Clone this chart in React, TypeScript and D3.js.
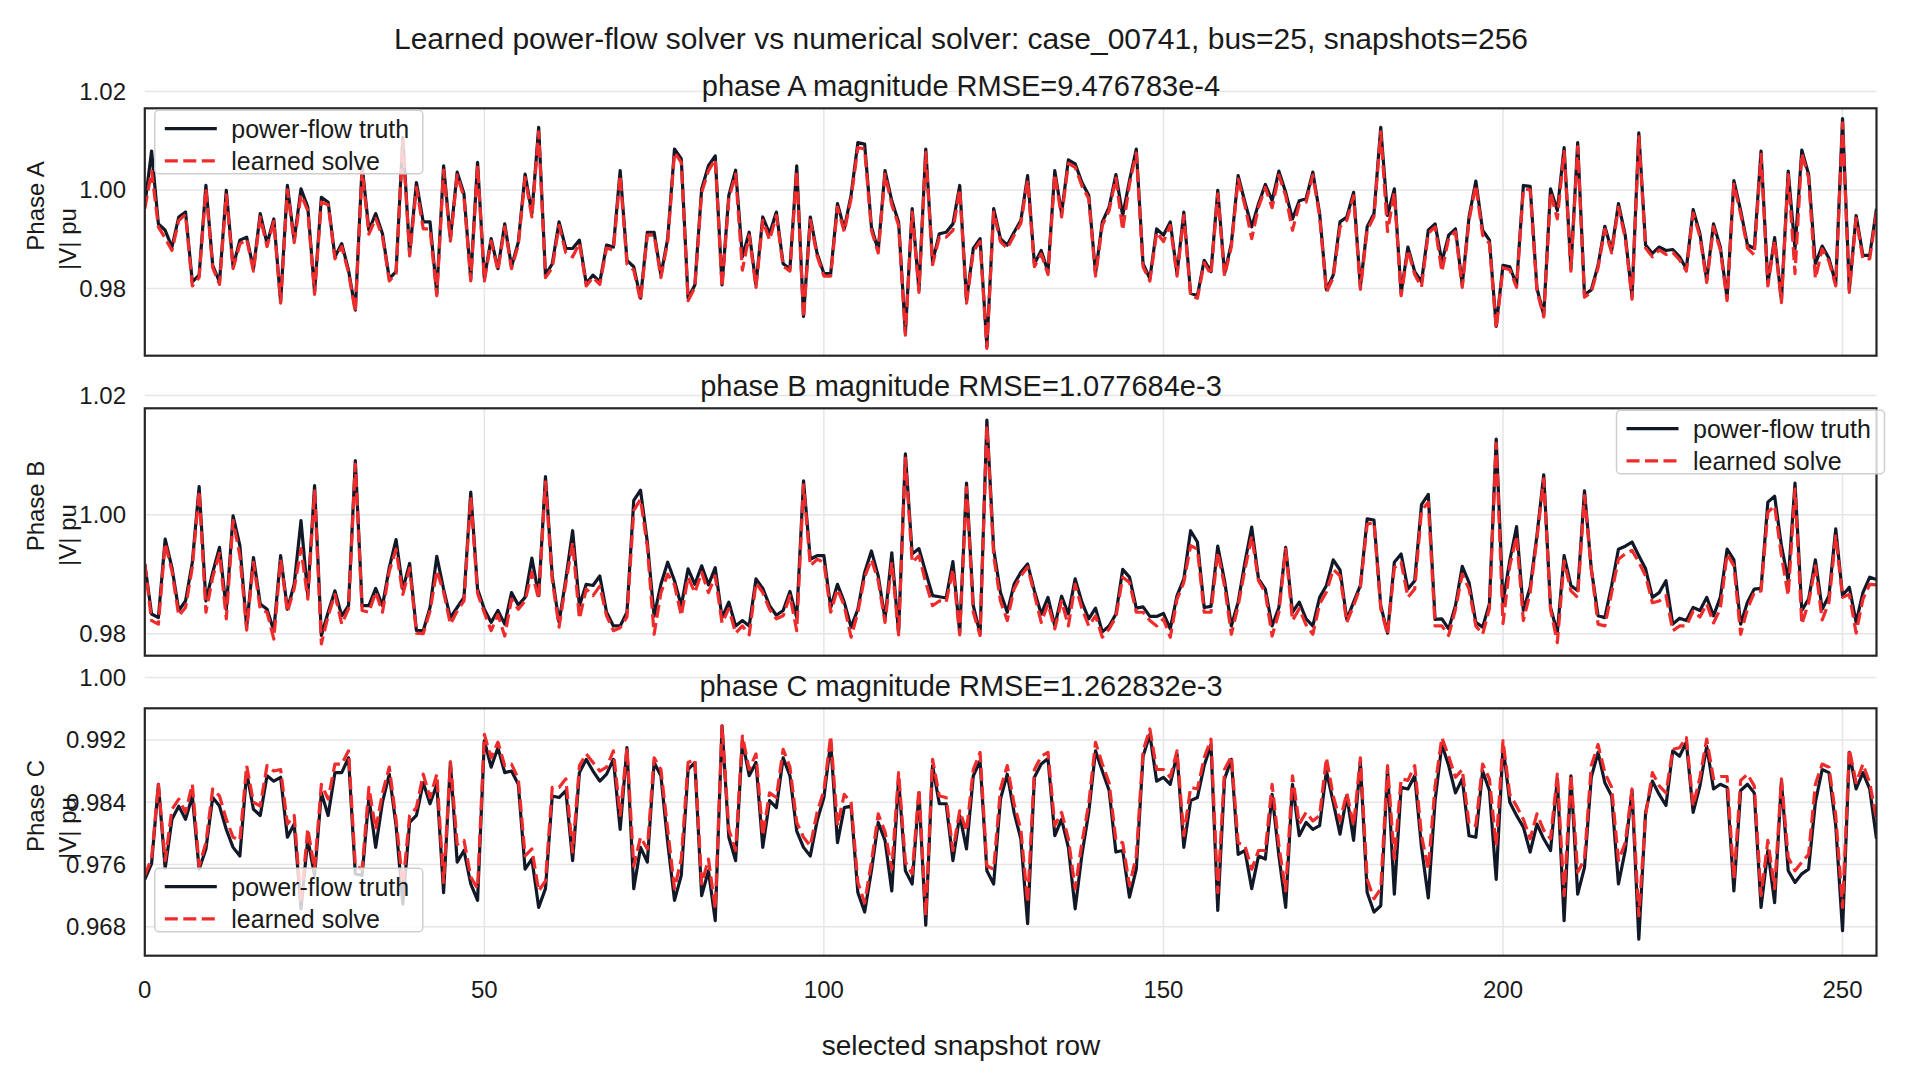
import * as d3 from "d3";

const SUPTITLE = "Learned power-flow solver vs numerical solver: case_00741, bus=25, snapshots=256";
const X_LABEL = "selected snapshot row";
const X_TICKS = [0, 50, 100, 150, 200, 250];
const Y_TICKS_AB = [0.98, 1.0, 1.02];
const Y_TICK_LABELS_AB = ["0.98", "1.00", "1.02"];
const Y_TICKS_C = [0.968, 0.976, 0.984, 0.992, 1.0];
const Y_TICK_LABELS_C = ["0.968", "0.976", "0.984", "0.992", "1.00"];
const SERIES_NAMES = ["power-flow truth", "learned solve"];

// phase A |V| (pu), 256 snapshots
const truthA = [
  0.9968, 1.0079, 0.9931, 0.9918, 0.9884, 0.9945, 0.9955, 0.9813, 0.9827, 1.0009, 0.9847, 0.9813, 0.9999, 0.9844, 0.9898, 0.9904,
  0.984, 0.9952, 0.9891, 0.9941, 0.9773, 1.0009, 0.9898, 1.0002, 0.9965, 0.9793, 0.9985, 0.9975, 0.9864, 0.9891, 0.9837, 0.9756,
  1.0049, 0.9918, 0.9952, 0.9911, 0.982, 0.9834, 1.0106, 0.9871, 1.0015, 0.9935, 0.9935, 0.979, 1.0049, 0.9901, 1.0036, 0.9992,
  0.982, 1.0056, 0.982, 0.9901, 0.984, 0.9931, 0.9844, 0.9894, 1.0032, 0.9952, 1.0127, 0.9827, 0.985, 0.9935, 0.9881, 0.9881,
  0.9898, 0.981, 0.9827, 0.9813, 0.9888, 0.9884, 1.0039, 0.9857, 0.9844, 0.978, 0.9914, 0.9914, 0.9827, 0.9901, 1.0083, 1.0063,
  0.978, 0.9807, 1.0002, 1.0049, 1.0069, 0.9807, 0.9989, 1.004, 0.9864, 0.9914, 0.9807, 0.9945, 0.9911, 0.9955, 0.985, 0.984,
  1.0049, 0.9743, 0.9945, 0.9871, 0.983, 0.983, 0.9972, 0.9921, 0.9989, 1.0096, 1.0093, 0.9925, 0.9877, 1.0039, 0.9978, 0.9935,
  0.9709, 0.9962, 0.9797, 1.0083, 0.9854, 0.9911, 0.9914, 0.9931, 1.0009, 0.9776, 0.9881, 0.9901, 0.9682, 0.9962, 0.9901, 0.9888,
  0.9914, 0.9938, 1.0029, 0.985, 0.9877, 0.9834, 1.0039, 0.9952, 1.0061, 1.0053, 1.0015, 0.9989, 0.983, 0.9935, 0.9965, 1.0031,
  0.9948, 1.0019, 1.0083, 0.985, 0.982, 0.9921, 0.9908, 0.9935, 0.983, 0.9955, 0.979, 0.9785, 0.9857, 0.9834, 0.9999, 0.983,
  0.9891, 1.0029, 0.9975, 0.9925, 0.9972, 1.0011, 0.9978, 1.0038, 0.9995, 0.9941, 0.9978, 0.9982, 1.0036, 0.9952, 0.9797, 0.9827,
  0.9935, 0.9945, 0.9995, 0.9803, 0.9925, 0.9952, 1.0127, 0.9948, 1.0002, 0.979, 0.9884, 0.9834, 0.9813, 0.9918, 0.9931, 0.9854,
  0.9908, 0.9921, 0.9807, 0.9945, 1.0018, 0.9918, 0.9898, 0.9723, 0.9847, 0.9844, 0.9807, 1.0009, 1.0007, 0.98, 0.9746, 1.0002,
  0.9958, 1.0086, 0.984, 1.0096, 0.9787, 0.9797, 0.9847, 0.9926, 0.9877, 0.9972, 0.9908, 0.9783, 1.0116, 0.9888, 0.9871, 0.9884,
  0.9877, 0.9879, 0.9864, 0.984, 0.996, 0.9911, 0.9817, 0.9931, 0.9884, 0.978, 1.0019, 0.9958, 0.9888, 0.9881, 1.0079, 0.981,
  0.9903, 0.9776, 1.0038, 0.988, 1.0081, 1.0032, 0.985, 0.9886, 0.9861, 0.981, 1.0145, 0.9797, 0.9948, 0.9867, 0.9867, 0.9962,
];
const learnedA = [
  0.9962, 1.0038, 0.9925, 0.9902, 0.9877, 0.9938, 0.995, 0.9805, 0.9822, 1.0002, 0.9842, 0.9808, 0.999, 0.984, 0.989, 0.99,
  0.9835, 0.9945, 0.9885, 0.9936, 0.977, 1.0, 0.9893, 0.999, 0.9958, 0.9788, 0.9975, 0.997, 0.986, 0.9885, 0.9832, 0.9752,
  1.004, 0.991, 0.9942, 0.9905, 0.9815, 0.983, 1.01, 0.9866, 1.0005, 0.9921, 0.9921, 0.9785, 1.004, 0.9896, 1.003, 0.9985,
  0.9815, 1.005, 0.9815, 0.9896, 0.9836, 0.9925, 0.984, 0.9888, 1.0025, 0.9945, 1.0118, 0.9822, 0.9842, 0.9928, 0.9872, 0.9864,
  0.9892, 0.9805, 0.9822, 0.9808, 0.9882, 0.9878, 1.003, 0.985, 0.9837, 0.9775, 0.9908, 0.9908, 0.9822, 0.9895, 1.0076, 1.0056,
  0.9775, 0.9802, 0.9995, 1.0039, 1.0062, 0.9802, 0.9982, 1.0032, 0.9837, 0.9908, 0.9802, 0.9938, 0.9898, 0.9948, 0.9845, 0.9835,
  1.004, 0.974, 0.9938, 0.9866, 0.9825, 0.9825, 0.9965, 0.9915, 0.9982, 1.0086, 1.0083, 0.9918, 0.9872, 1.0032, 0.997, 0.9928,
  0.9705, 0.9955, 0.9792, 1.0076, 0.9848, 0.9904, 0.9904, 0.9918, 1.0002, 0.977, 0.9875, 0.9895, 0.9678, 0.9955, 0.9895, 0.9881,
  0.9908, 0.9932, 1.002, 0.9844, 0.987, 0.9828, 1.0032, 0.9945, 1.0054, 1.0046, 1.0008, 0.9982, 0.9825, 0.9928, 0.9958, 1.0024,
  0.9918, 1.0012, 1.0075, 0.9844, 0.9815, 0.9914, 0.9895, 0.9928, 0.9825, 0.9948, 0.9785, 0.978, 0.9852, 0.9828, 0.9992, 0.9825,
  0.9885, 1.0022, 0.9968, 0.9901, 0.9965, 1.0005, 0.9964, 1.003, 0.9988, 0.9918, 0.9971, 0.9975, 1.003, 0.9946, 0.9792, 0.9822,
  0.9925, 0.9938, 0.9988, 0.9798, 0.9918, 0.9946, 1.0118, 0.9915, 0.9995, 0.9785, 0.9878, 0.9828, 0.9803, 0.9912, 0.9925, 0.9834,
  0.9902, 0.9915, 0.9802, 0.9938, 1.001, 0.9908, 0.9891, 0.9718, 0.9842, 0.9838, 0.9802, 1.0002, 1.0, 0.9795, 0.9742, 0.9995,
  0.9941, 1.0078, 0.9835, 1.0088, 0.9782, 0.9792, 0.9842, 0.992, 0.9872, 0.9965, 0.9902, 0.9778, 1.0108, 0.9882, 0.9864, 0.9878,
  0.9869, 0.9873, 0.9858, 0.9835, 0.9953, 0.9905, 0.9812, 0.9925, 0.9878, 0.9775, 1.0012, 0.9951, 0.9882, 0.9868, 1.0072, 0.9805,
  0.9897, 0.9771, 1.0031, 0.983, 1.0074, 1.0025, 0.982, 0.988, 0.9855, 0.9805, 1.0136, 0.9792, 0.9942, 0.986, 0.986, 0.9955,
];

// phase B |V| (pu)
const truthB = [
  0.9917, 0.9833, 0.9827, 0.9959, 0.9911, 0.9839, 0.9855, 0.992, 1.0047, 0.9855, 0.9903, 0.9945, 0.9841, 0.9998, 0.9948, 0.9811,
  0.9928, 0.985, 0.9841, 0.9805, 0.9931, 0.9841, 0.9883, 0.999, 0.9864, 1.0049, 0.9797, 0.9836, 0.9872, 0.983, 0.9847, 1.0091,
  0.9847, 0.9847, 0.9876, 0.9847, 0.9911, 0.9958, 0.9875, 0.9918, 0.9805, 0.9805, 0.9844, 0.993, 0.9875, 0.9827, 0.9844, 0.9861,
  1.0038, 0.9875, 0.9841, 0.9819, 0.9839, 0.9816, 0.9869, 0.9848, 0.9861, 0.9927, 0.9864, 1.0064, 0.9897, 0.9819, 0.9892, 0.9973,
  0.9847, 0.9883, 0.9881, 0.9897, 0.9836, 0.9813, 0.9813, 0.9836, 1.0024, 1.0041, 0.9954, 0.983, 0.9883, 0.992, 0.9889, 0.9847,
  0.9909, 0.9883, 0.9914, 0.9882, 0.9911, 0.9827, 0.9853, 0.9813, 0.9822, 0.9813, 0.9892, 0.9876, 0.9847, 0.9831, 0.9839, 0.9871,
  0.9827, 1.0057, 0.9925, 0.9931, 0.9931, 0.9844, 0.9883, 0.9853, 0.9811, 0.9841, 0.9903, 0.9939, 0.9897, 0.9825, 0.9936, 0.9802,
  1.0102, 0.9934, 0.9943, 0.9903, 0.9864, 0.9862, 0.986, 0.9921, 0.9802, 1.0053, 0.9847, 0.98, 1.0159, 0.9942, 0.9869, 0.9836,
  0.9883, 0.9903, 0.9917, 0.9872, 0.9833, 0.9861, 0.9813, 0.9863, 0.9833, 0.9892, 0.9853, 0.9825, 0.9843, 0.9803, 0.9813, 0.9833,
  0.9908, 0.9895, 0.9843, 0.9845, 0.9829, 0.9829, 0.9834, 0.9808, 0.9864, 0.9892, 0.9973, 0.9954, 0.9844, 0.9846, 0.9947, 0.9889,
  0.9813, 0.9853, 0.992, 0.9979, 0.9892, 0.9875, 0.9813, 0.9844, 0.9945, 0.9836, 0.9853, 0.9825, 0.9813, 0.9861, 0.9881, 0.9924,
  0.9907, 0.9824, 0.9853, 0.9881, 0.9993, 0.9991, 0.9847, 0.9801, 0.992, 0.9934, 0.9875, 0.9889, 1.0017, 1.0034, 0.9824, 0.9825,
  0.9808, 0.9847, 0.9913, 0.9886, 0.9819, 0.9811, 0.985, 1.0127, 0.9853, 0.9923, 0.998, 0.9839, 0.9878, 0.9965, 1.0067, 0.9844,
  0.9802, 0.9931, 0.9881, 0.9872, 1.004, 0.9909, 0.983, 0.9827, 0.9881, 0.9942, 0.9947, 0.9954, 0.9931, 0.9909, 0.9861, 0.9869,
  0.9889, 0.9816, 0.9826, 0.9822, 0.9844, 0.9839, 0.9861, 0.983, 0.9861, 0.9942, 0.9924, 0.9816, 0.9853, 0.9875, 0.9876, 1.0021,
  1.0031, 0.9948, 0.9889, 1.0053, 0.9839, 0.9858, 0.9924, 0.9841, 0.9864, 0.9976, 0.9864, 0.9878, 0.9819, 0.9869, 0.9895, 0.9891,
];
const learnedB = [
  0.9917, 0.9822, 0.9816, 0.9952, 0.9905, 0.983, 0.9844, 0.9912, 1.004, 0.9836, 0.9895, 0.9935, 0.9825, 0.999, 0.9931, 0.9806,
  0.992, 0.9841, 0.9836, 0.9791, 0.9925, 0.9836, 0.9876, 0.9943, 0.9858, 1.004, 0.9783, 0.983, 0.9866, 0.9816, 0.9842, 1.0085,
  0.9839, 0.9836, 0.987, 0.9836, 0.9905, 0.9942, 0.9866, 0.991, 0.9801, 0.98, 0.9838, 0.9906, 0.987, 0.9816, 0.9838, 0.9855,
  1.003, 0.9868, 0.9835, 0.9805, 0.9832, 0.9796, 0.9858, 0.9841, 0.9855, 0.9903, 0.9858, 1.0055, 0.989, 0.9811, 0.9885, 0.9953,
  0.9825, 0.9875, 0.9864, 0.988, 0.983, 0.9805, 0.981, 0.9828, 1.0007, 1.0026, 0.9946, 0.9799, 0.9869, 0.99, 0.9882, 0.983,
  0.9895, 0.9869, 0.9903, 0.9869, 0.9897, 0.9818, 0.9842, 0.9801, 0.9813, 0.9798, 0.9885, 0.9869, 0.9841, 0.9825, 0.983, 0.9864,
  0.9805, 1.005, 0.9914, 0.9925, 0.992, 0.9836, 0.9875, 0.9847, 0.9794, 0.9836, 0.9895, 0.9925, 0.9889, 0.9819, 0.992, 0.9798,
  1.0095, 0.992, 0.9931, 0.9886, 0.9847, 0.9855, 0.9853, 0.9908, 0.9798, 1.0046, 0.9836, 0.9797, 1.015, 0.9931, 0.9855, 0.9822,
  0.9875, 0.9897, 0.9912, 0.9866, 0.9819, 0.985, 0.9808, 0.9855, 0.9813, 0.9883, 0.9842, 0.9813, 0.983, 0.9794, 0.9808, 0.9828,
  0.9895, 0.9886, 0.9836, 0.9836, 0.9822, 0.9813, 0.9825, 0.9794, 0.9858, 0.9886, 0.9948, 0.9942, 0.9836, 0.9836, 0.9937, 0.988,
  0.9799, 0.9847, 0.9908, 0.9964, 0.9889, 0.9869, 0.9796, 0.9836, 0.9942, 0.9822, 0.9842, 0.9815, 0.9799, 0.985, 0.987, 0.9908,
  0.9897, 0.9819, 0.9847, 0.9878, 0.9984, 0.9987, 0.9842, 0.9799, 0.9911, 0.992, 0.9861, 0.9875, 1.0007, 1.0021, 0.9813, 0.9813,
  0.9797, 0.9841, 0.99, 0.9875, 0.9813, 0.9799, 0.9842, 1.012, 0.9817, 0.9914, 0.9964, 0.9822, 0.9869, 0.996, 1.006, 0.9841,
  0.9785, 0.9922, 0.9872, 0.9861, 1.0032, 0.9909, 0.9816, 0.9813, 0.9869, 0.9925, 0.9934, 0.994, 0.992, 0.9897, 0.9852, 0.9855,
  0.9864, 0.9805, 0.9813, 0.9813, 0.9838, 0.9828, 0.985, 0.9818, 0.9842, 0.9934, 0.9914, 0.9799, 0.9842, 0.9869, 0.9872, 1.0004,
  1.0015, 0.9931, 0.9864, 1.0043, 0.9816, 0.9852, 0.9914, 0.9823, 0.9853, 0.9964, 0.9861, 0.9866, 0.9801, 0.9858, 0.9883, 0.9882,
];

// phase C |V| (pu)
const truthC = [
  0.9741, 0.9761, 0.9863, 0.9755, 0.9818, 0.9835, 0.9818, 0.9848, 0.9754, 0.978, 0.9846, 0.9835, 0.9805, 0.9782, 0.9771, 0.9878,
  0.9831, 0.9823, 0.9874, 0.9867, 0.9872, 0.9795, 0.9812, 0.9703, 0.9793, 0.9746, 0.9852, 0.9823, 0.9878, 0.9878, 0.9897, 0.9748,
  0.9746, 0.9846, 0.9782, 0.984, 0.9876, 0.981, 0.9709, 0.9814, 0.9823, 0.9865, 0.9838, 0.9863, 0.9724, 0.9891, 0.9763, 0.9778,
  0.9735, 0.9714, 0.9919, 0.9885, 0.991, 0.9878, 0.988, 0.9863, 0.9754, 0.9767, 0.9705, 0.9729, 0.9848, 0.9846, 0.9855, 0.9765,
  0.9878, 0.9895, 0.988, 0.9867, 0.9876, 0.9895, 0.9805, 0.991, 0.9729, 0.9782, 0.9763, 0.9891, 0.9874, 0.9788, 0.9714, 0.9746,
  0.9882, 0.9891, 0.972, 0.9752, 0.9688, 0.9938, 0.9795, 0.9765, 0.9919, 0.9874, 0.9891, 0.9782, 0.9842, 0.9833, 0.9897, 0.9874,
  0.9803, 0.9782, 0.9771, 0.9816, 0.9846, 0.9917, 0.9788, 0.9833, 0.9835, 0.9724, 0.9699, 0.9752, 0.9814, 0.9791, 0.9726, 0.987,
  0.9752, 0.9735, 0.9852, 0.9682, 0.9887, 0.9838, 0.9838, 0.9765, 0.9823, 0.978, 0.9874, 0.9893, 0.9752, 0.9735, 0.9844, 0.9876,
  0.9827, 0.9793, 0.9684, 0.9872, 0.9889, 0.9896, 0.9797, 0.9818, 0.9782, 0.9703, 0.9773, 0.9827, 0.9906, 0.988, 0.9855, 0.9776,
  0.9778, 0.9718, 0.9754, 0.9899, 0.9927, 0.9867, 0.9872, 0.9863, 0.9902, 0.9782, 0.9842, 0.9846, 0.9887, 0.9914, 0.9701, 0.987,
  0.9895, 0.9773, 0.9778, 0.9729, 0.9771, 0.9767, 0.985, 0.9771, 0.9705, 0.9863, 0.9797, 0.9814, 0.9805, 0.981, 0.988, 0.984,
  0.9799, 0.9848, 0.9791, 0.9891, 0.9724, 0.9699, 0.9707, 0.9882, 0.9722, 0.9859, 0.9857, 0.9874, 0.9782, 0.9717, 0.9842, 0.9914,
  0.9887, 0.9852, 0.987, 0.9797, 0.9795, 0.988, 0.9855, 0.9741, 0.9912, 0.984, 0.9823, 0.9808, 0.9776, 0.9812, 0.9793, 0.9778,
  0.987, 0.9688, 0.9874, 0.9722, 0.9756, 0.9872, 0.9904, 0.9865, 0.9848, 0.9735, 0.9778, 0.9855, 0.9664, 0.9827, 0.9867, 0.985,
  0.9836, 0.9906, 0.9899, 0.9917, 0.9827, 0.9861, 0.9912, 0.9857, 0.9863, 0.9859, 0.9726, 0.9855, 0.9863, 0.9852, 0.9705, 0.9778,
  0.9711, 0.9867, 0.9752, 0.9737, 0.9748, 0.9754, 0.984, 0.9882, 0.9878, 0.981, 0.9675, 0.9904, 0.9857, 0.9878, 0.9857, 0.9793,
];
const learnedC = [
  0.9746, 0.9768, 0.9863, 0.9765, 0.9831, 0.9844, 0.9827, 0.9863, 0.9758, 0.9788, 0.9857, 0.9848, 0.9818, 0.9795, 0.9791, 0.9887,
  0.984, 0.9835, 0.9887, 0.988, 0.9882, 0.9812, 0.9823, 0.9711, 0.9806, 0.9754, 0.9863, 0.9844, 0.9889, 0.9889, 0.9906, 0.9758,
  0.9754, 0.9859, 0.9805, 0.9852, 0.9885, 0.9818, 0.9733, 0.9823, 0.9833, 0.9876, 0.9846, 0.9876, 0.9737, 0.9892, 0.9786, 0.9791,
  0.9744, 0.9729, 0.9927, 0.9897, 0.9917, 0.9887, 0.9889, 0.987, 0.9771, 0.978, 0.9726, 0.9739, 0.9859, 0.9859, 0.987, 0.9776,
  0.9887, 0.9902, 0.9891, 0.988, 0.9885, 0.9906, 0.9823, 0.991, 0.9758, 0.9795, 0.978, 0.9897, 0.9882, 0.9805, 0.9729, 0.9767,
  0.9891, 0.9895, 0.9735, 0.9767, 0.9703, 0.9938, 0.9805, 0.9778, 0.9925, 0.9882, 0.9902, 0.9797, 0.9852, 0.9846, 0.9908, 0.9885,
  0.9814, 0.9795, 0.9784, 0.9827, 0.9855, 0.9925, 0.981, 0.985, 0.984, 0.9737, 0.9711, 0.9763, 0.9825, 0.9802, 0.9754, 0.9878,
  0.9763, 0.9748, 0.9857, 0.9694, 0.9895, 0.9848, 0.9846, 0.9778, 0.9829, 0.9803, 0.9882, 0.9904, 0.9758, 0.9754, 0.9857, 0.9887,
  0.9838, 0.9805, 0.9711, 0.9882, 0.9899, 0.9904, 0.981, 0.9827, 0.9793, 0.9729, 0.9788, 0.9838, 0.9917, 0.9889, 0.9865, 0.9791,
  0.9788, 0.9733, 0.9771, 0.9906, 0.9934, 0.9882, 0.9882, 0.9872, 0.9906, 0.9797, 0.9859, 0.9857, 0.9897, 0.9921, 0.9724, 0.9882,
  0.9899, 0.9788, 0.9784, 0.9754, 0.9778, 0.9778, 0.9863, 0.9784, 0.9726, 0.9874, 0.9812, 0.9827, 0.9816, 0.9823, 0.9897, 0.9848,
  0.9816, 0.9852, 0.981, 0.9897, 0.9741, 0.9716, 0.9729, 0.9887, 0.9767, 0.987, 0.9868, 0.9887, 0.9797, 0.9754, 0.9861, 0.9923,
  0.9899, 0.9872, 0.9882, 0.9812, 0.981, 0.9889, 0.987, 0.9784, 0.9919, 0.985, 0.9835, 0.9818, 0.9793, 0.9825, 0.9804, 0.9793,
  0.9876, 0.972, 0.9876, 0.975, 0.9767, 0.9887, 0.9914, 0.9878, 0.9859, 0.9765, 0.9788, 0.9857, 0.9694, 0.9823, 0.9878, 0.9861,
  0.9852, 0.9908, 0.991, 0.9923, 0.9835, 0.9872, 0.9921, 0.987, 0.9873, 0.9873, 0.9741, 0.9868, 0.9876, 0.9861, 0.972, 0.9791,
  0.9729, 0.987, 0.9769, 0.9752, 0.9763, 0.9773, 0.9863, 0.9889, 0.9885, 0.9823, 0.9705, 0.9908, 0.9865, 0.9889, 0.9865, 0.9818,
];

const FONT = "'Liberation Sans', Arial, Helvetica, sans-serif";
const TRUTH_COLOR = "#111827";
const LEARNED_COLOR = "#ef2b2b";
const GRID_COLOR = "#e6e6e6";
const TEXT_COLOR = "#1a1a1a";

const WIDTH = 1920;
const HEIGHT = 1080;
const PLOT_LEFT = 144.8;
const PLOT_RIGHT = 1876.5;
const CENTER_X = 961;

type LegendPos = "upper-left" | "upper-right" | "lower-left";

interface Panel {
  phase: string;
  title: string;
  truth: number[];
  learned: number[];
  top: number;
  bottom: number;
  domain: [number, number];
  ticks: number[];
  tickLabels: string[];
  legend: LegendPos;
  unitOffset: number;
}

const panels: Panel[] = [
  {
    phase: "Phase A",
    title: "phase A magnitude RMSE=9.476783e-4",
    truth: truthA,
    learned: learnedA,
    top: 108.3,
    bottom: 355.7,
    domain: [0.96633, 1.01657],
    ticks: Y_TICKS_AB,
    tickLabels: Y_TICK_LABELS_AB,
    legend: "upper-left",
    unitOffset: 7,
  },
  {
    phase: "Phase B",
    title: "phase B magnitude RMSE=1.077684e-3",
    truth: truthB,
    learned: learnedB,
    top: 408.3,
    bottom: 655.7,
    domain: [0.9763, 1.01787],
    ticks: Y_TICKS_AB,
    tickLabels: Y_TICK_LABELS_AB,
    legend: "upper-right",
    unitOffset: 3,
  },
  {
    phase: "Phase C",
    title: "phase C magnitude RMSE=1.262832e-3",
    truth: truthC,
    learned: learnedC,
    top: 708.3,
    bottom: 955.7,
    domain: [0.96429, 0.99606],
    ticks: Y_TICKS_C,
    tickLabels: Y_TICK_LABELS_C,
    legend: "lower-left",
    unitOffset: -4,
  },
];

const x = d3.scaleLinear().domain([0, 255]).range([PLOT_LEFT, PLOT_RIGHT]);

const LEG_W = 268;
const LEG_H = 63.4;

function Legend({ left, top }: { left: number; top: number }) {
  const rows = [top + 18.4, top + 50.6];
  return (
    <g>
      <rect
        x={left}
        y={top}
        width={LEG_W}
        height={LEG_H}
        rx={4}
        fill="#ffffff"
        fillOpacity={0.8}
        stroke="#cfcfcf"
        strokeWidth={1.5}
      />
      <line x1={left + 10} x2={left + 62} y1={rows[0]} y2={rows[0]} stroke={TRUTH_COLOR} strokeWidth={3.2} />
      <line
        x1={left + 10}
        x2={left + 62}
        y1={rows[1]}
        y2={rows[1]}
        stroke={LEARNED_COLOR}
        strokeWidth={3.2}
        strokeDasharray="13 5.5"
      />
      {SERIES_NAMES.map((name, i) => (
        <text key={name} x={left + 76.5} y={rows[i]} fontSize={25} dominantBaseline="central" fill={TEXT_COLOR}>
          {name}
        </text>
      ))}
    </g>
  );
}

function PhasePanel({ p, index, showX }: { p: Panel; index: number; showX: boolean }) {
  const y = d3.scaleLinear().domain(p.domain).range([p.bottom, p.top]);
  const line = d3
    .line<number>()
    .x((_, i) => x(i))
    .y((d) => y(d));
  const clipId = `clip-${index}`;
  const mid = (p.top + p.bottom) / 2;

  let legLeft = PLOT_LEFT + 10;
  let legTop = p.top + 2;
  if (p.legend === "upper-right") legLeft = PLOT_RIGHT + 8 - LEG_W;
  if (p.legend === "lower-left") legTop = p.bottom - 87.4;

  return (
    <g>
      <clipPath id={clipId}>
        <rect x={PLOT_LEFT} y={p.top} width={PLOT_RIGHT - PLOT_LEFT} height={p.bottom - p.top} />
      </clipPath>
      {p.ticks.map((t) => (
        <line key={`h${t}`} x1={PLOT_LEFT} x2={PLOT_RIGHT} y1={y(t)} y2={y(t)} stroke={GRID_COLOR} strokeWidth={1.5} />
      ))}
      {X_TICKS.map((t) => (
        <line key={`v${t}`} x1={x(t)} x2={x(t)} y1={p.top} y2={p.bottom} stroke={GRID_COLOR} strokeWidth={1.5} />
      ))}
      <g clipPath={`url(#${clipId})`}>
        <path d={line(p.truth) ?? ""} fill="none" stroke={TRUTH_COLOR} strokeWidth={3.2} strokeLinejoin="round" />
        <path
          d={line(p.learned) ?? ""}
          fill="none"
          stroke={LEARNED_COLOR}
          strokeWidth={3.2}
          strokeDasharray="13 5.5"
          strokeLinejoin="round"
        />
      </g>
      <rect
        x={PLOT_LEFT}
        y={p.top}
        width={PLOT_RIGHT - PLOT_LEFT}
        height={p.bottom - p.top}
        fill="none"
        stroke="#262626"
        strokeWidth={2.2}
      />
      {p.ticks.map((t, i) => (
        <text
          key={`t${t}`}
          x={126}
          y={y(t)}
          fontSize={24}
          textAnchor="end"
          dominantBaseline="central"
          fill={TEXT_COLOR}
        >
          {p.tickLabels[i]}
        </text>
      ))}
      {showX &&
        X_TICKS.map((t) => (
          <text
            key={`x${t}`}
            x={x(t)}
            y={p.bottom + 34}
            fontSize={24}
            textAnchor="middle"
            dominantBaseline="central"
            fill={TEXT_COLOR}
          >
            {t}
          </text>
        ))}
      <text
        x={CENTER_X}
        y={p.top - 22.5}
        fontSize={29}
        textAnchor="middle"
        dominantBaseline="central"
        fill={TEXT_COLOR}
      >
        {p.title}
      </text>
      <text
        transform={`translate(43.5,${mid - 26}) rotate(-90)`}
        fontSize={24}
        textAnchor="middle"
        fill={TEXT_COLOR}
      >
        {p.phase}
      </text>
      <text
        transform={`translate(75.5,${mid + p.unitOffset}) rotate(-90)`}
        fontSize={24}
        textAnchor="middle"
        fill={TEXT_COLOR}
      >
        |V| pu
      </text>
      <Legend left={legLeft} top={legTop} />
    </g>
  );
}

export default function App() {
  return (
    <svg
      width={WIDTH}
      height={HEIGHT}
      viewBox={`0 0 ${WIDTH} ${HEIGHT}`}
      style={{ position: "absolute", left: 0, top: 0, background: "#ffffff" }}
      fontFamily={FONT}
    >
      <rect width={WIDTH} height={HEIGHT} fill="#ffffff" />
      <text x={CENTER_X} y={38} fontSize={30} textAnchor="middle" dominantBaseline="central" fill={TEXT_COLOR}>
        {SUPTITLE}
      </text>
      {panels.map((p, i) => (
        <PhasePanel key={p.phase} p={p} index={i} showX={i === panels.length - 1} />
      ))}
      <text x={CENTER_X} y={1045} fontSize={28} textAnchor="middle" dominantBaseline="central" fill={TEXT_COLOR}>
        {X_LABEL}
      </text>
    </svg>
  );
}
